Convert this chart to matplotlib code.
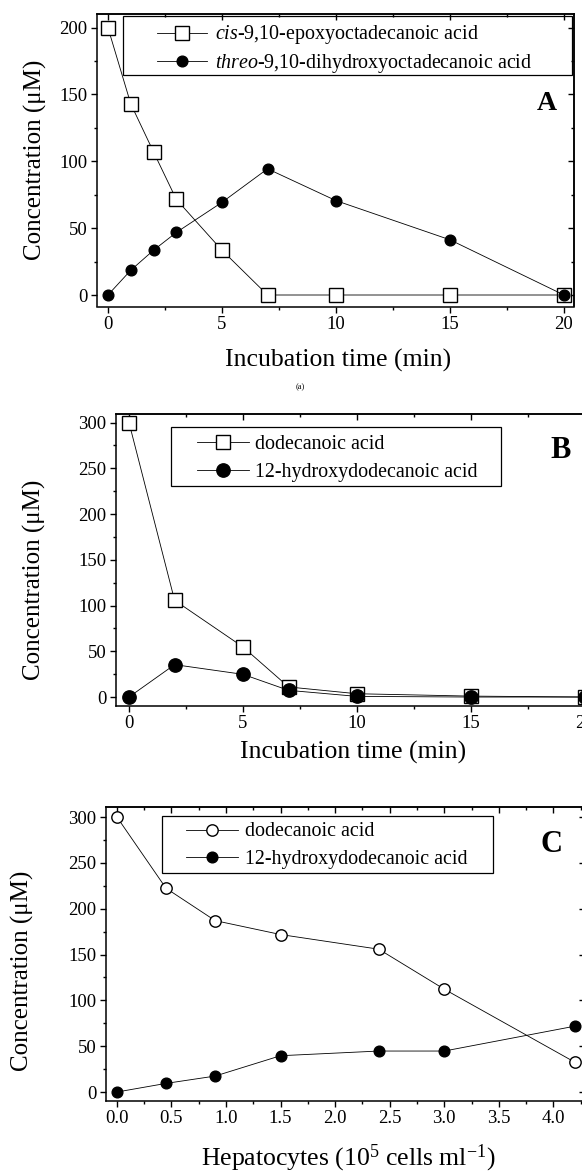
import matplotlib
matplotlib.use('Agg')
import matplotlib.pyplot as plt
from matplotlib.ticker import MultipleLocator, FormatStrFormatter
from matplotlib.patches import Rectangle

plt.rcParams['font.family'] = 'Liberation Serif'
plt.rcParams['mathtext.fontset'] = 'custom'
plt.rcParams['mathtext.rm'] = 'Liberation Serif'
plt.rcParams['mathtext.it'] = 'Liberation Serif:italic'

# Panel A: epoxide hydrolysis
timeA = [0, 1, 2, 3, 5, 7, 10, 15, 20]
epoxyA = [200, 143, 107, 71.5, 33.5, 0, 0, 0, 0]
diolA = [0, 18.5, 33.5, 46.8, 69.3, 94.4, 70.6, 41.3, 0]

# Panel B: dodecanoic acid vs time
timeB = [0, 2, 5, 7, 10, 15, 20]
dodecB = [300, 105.7, 54.7, 11, 3.6, 1, 0]
hydroxB = [0, 35.4, 24.8, 7.3, 0.7, 0, 0]

# Panel C: dodecanoic acid vs hepatocyte density
cellsC = [0, 0.45, 0.9, 1.5, 2.4, 3.0, 4.2]
dodecC = [300, 222.3, 187, 171.8, 155.8, 112.2, 32.3]
hydroxC = [0, 9.4, 17.4, 39.6, 44.7, 44.7, 71.9]

W, H = 582, 1174
fig = plt.figure(figsize=(W / 100, H / 100), dpi=100)


def fbox(l, t, r, b):
    return [l / W, 1 - b / H, (r - l) / W, (b - t) / H]


def style_axes(ax, xmaj, xmin, ymaj, ymin):
    for s in ax.spines.values():
        s.set_linewidth(1.1)
    ax.xaxis.set_major_locator(MultipleLocator(xmaj))
    ax.xaxis.set_minor_locator(MultipleLocator(xmin))
    ax.yaxis.set_major_locator(MultipleLocator(ymaj))
    ax.yaxis.set_minor_locator(MultipleLocator(ymin))
    ax.tick_params(which='both', direction='out', labelsize=13.5, width=1.0)
    ax.tick_params(axis='x', which='major', length=4, pad=2.5)
    ax.tick_params(axis='x', which='minor', length=2.5)
    ax.tick_params(axis='y', which='major', length=4, pad=3)
    ax.tick_params(axis='y', which='minor', length=2)
    top = ax.secondary_xaxis('top')
    top.xaxis.set_major_locator(MultipleLocator(xmaj))
    top.xaxis.set_minor_locator(MultipleLocator(xmin))
    top.tick_params(which='both', direction='in', labeltop=False, width=1.0)
    top.tick_params(which='major', length=4)
    top.tick_params(which='minor', length=2.5)
    right = ax.secondary_yaxis('right')
    right.yaxis.set_major_locator(MultipleLocator(ymaj))
    right.yaxis.set_minor_locator(MultipleLocator(ymin))
    right.tick_params(which='both', direction='in', labelright=False, width=1.0)
    right.tick_params(which='major', length=4.5)
    right.tick_params(which='minor', length=2)
    for sec in (top, right):
        for s in sec.spines.values():
            s.set_linewidth(1.1)


def labels(ax, xl, xpos, ypos, ax_px):
    l, t, r, b = ax_px
    ax.set_xlabel(xl, fontsize=18.5, va='center')
    ax.xaxis.set_label_coords((xpos[0] - l) / (r - l), (b - xpos[1]) / (b - t))
    ax.set_ylabel('Concentration (\u03bcM)', fontsize=18, va='center', ha='center')
    ax.yaxis.set_label_coords((ypos[0] - l) / (r - l), (b - ypos[1]) / (b - t))


def legend_box(ax, entries, hx, top_px, spacing, hlen, tpad, frame):
    leg = ax.legend(entries[0], entries[1], loc='upper left',
                    bbox_to_anchor=(hx / W, 1 - top_px / H),
                    bbox_transform=fig.transFigure, frameon=False,
                    borderpad=0, borderaxespad=0, fontsize=14.4,
                    handlelength=hlen, handletextpad=tpad,
                    labelspacing=spacing, numpoints=1)
    l, t, r, b = frame
    fig.add_artist(Rectangle((l / W, 1 - b / H), (r - l) / W, (b - t) / H,
                             transform=fig.transFigure, fill=False,
                             edgecolor='black', linewidth=0.9))
    return leg


# ---- Panel A ----
pxA = (97, 14, 574, 306.5)
axA = fig.add_axes(fbox(*pxA))
s1, = axA.plot(timeA, epoxyA, '-s', color='black', lw=0.6, ms=9.5,
               mfc='white', mec='black', mew=1.0)
c1, = axA.plot(timeA, diolA, '-o', color='black', lw=0.6, ms=7.7,
               mfc='black', mec='black')
axA.set_xlim(-0.48, 20.44)
axA.set_ylim(-8.6, 210.2)
style_axes(axA, 5, 2.5, 50, 25)
labels(axA, 'Incubation time (min)', (338, 360), (35, 160), pxA)
legend_box(axA, ([s1, c1], [r'$\mathit{cis}$-9,10-epoxyoctadecanoic acid',
                            r'$\mathit{threo}$-9,10-dihydroxyoctadecanoic acid']),
           157, 23.5, 0.26, 2.5, 0.4, (123, 16.5, 572, 75))
fig.text(547 / W, 1 - 104 / H, 'A', fontsize=20, fontweight='bold',
         ha='center', va='center')
fig.text(300 / W, 1 - 387 / H, '(a)', fontsize=6, ha='center', va='center')

# ---- Panel B ----
pxB = (116, 414, 595, 706)
axB = fig.add_axes(fbox(*pxB))
s2, = axB.plot(timeB, dodecB, '-s', color='black', lw=0.6, ms=9.5,
               mfc='white', mec='black', mew=1.0)
c2, = axB.plot(timeB, hydroxB, '-o', color='black', lw=0.6, ms=9.6,
               mfc='black', mec='black')
axB.set_xlim(-0.57, 20.44)
axB.set_ylim(-9.8, 309.3)
style_axes(axB, 5, 2.5, 50, 25)
labels(axB, 'Incubation time (min)', (353, 752), (34, 580), pxB)
legend_box(axB, ([s2, c2], ['dodecanoic acid', '12-hydroxydodecanoic acid']),
           197, 435, 0.46, 2.6, 0.28, (171, 427.5, 501, 485.5))
fig.text(561 / W, 1 - 451 / H, 'B', fontsize=22, fontweight='bold',
         ha='center', va='center')

# ---- Panel C ----
pxC = (106, 807.3, 585, 1101)
axC = fig.add_axes(fbox(*pxC))
o3, = axC.plot(cellsC, dodecC, '-o', color='black', lw=0.6, ms=8.2,
               mfc='white', mec='black', mew=1.0)
c3, = axC.plot(cellsC, hydroxC, '-o', color='black', lw=0.6, ms=7.7,
               mfc='black', mec='black')
axC.set_xlim(-0.1, 4.29)
axC.set_ylim(-9.8, 310.6)
style_axes(axC, 0.5, 0.25, 50, 25)
axC.xaxis.set_major_formatter(FormatStrFormatter('%.1f'))
labels(axC, r'Hepatocytes (10$^{5}$ cells ml$^{-1}$)', (348, 1158), (22, 971), pxC)
legend_box(axC, ([o3, c3], ['dodecanoic acid', '12-hydroxydodecanoic acid']),
           186, 822.5, 0.44, 2.6, 0.35, (161.5, 815.5, 492.5, 872.5))
fig.text(552 / W, 1 - 845 / H, 'C', fontsize=22, fontweight='bold',
         ha='center', va='center')

fig.savefig('out.png', dpi=100)
